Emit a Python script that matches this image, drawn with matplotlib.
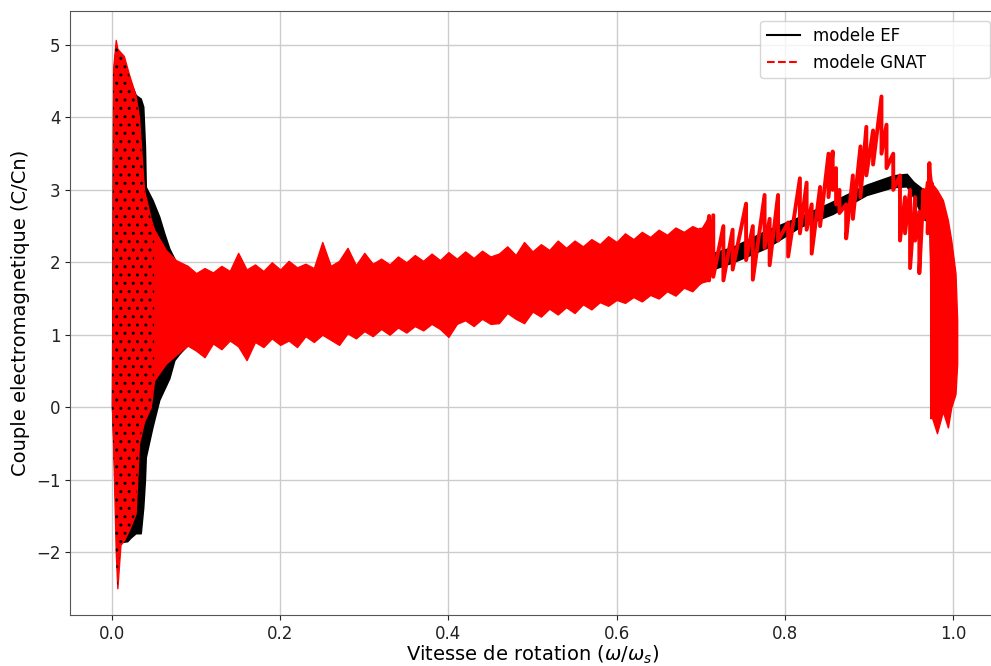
import numpy as np
import matplotlib
matplotlib.use("Agg")
import matplotlib.pyplot as plt
from matplotlib.lines import Line2D

# envelope of the oscillating torque (x = omega/omega_s)
ef_x = [0.0, 0.0015, 0.0036, 0.006, 0.012, 0.018, 0.022, 0.028, 0.034, 0.037, 0.039, 0.040,
        0.048, 0.056, 0.062, 0.068, 0.074, 0.080, 0.089, 0.10, 0.20, 0.30, 0.40, 0.50, 0.60,
        0.70, 0.738, 0.778, 0.818, 0.857, 0.897, 0.929, 0.945, 0.953, 0.965, 0.972, 0.977,
        0.99, 1.0]
ef_hi = [0.0, 4.6, 4.88, 4.8, 4.68, 4.63, 4.49, 4.31, 4.26, 4.15, 3.6, 3.04,
         2.86, 2.63, 2.40, 2.19, 2.05, 1.85, 1.71, 1.6, 1.55, 1.62, 1.7, 1.8, 1.92,
         2.08, 2.21, 2.44, 2.63, 2.84, 3.07, 3.2, 3.22, 3.11, 3.0, 2.95, 2.8,
         2.5, 1.4]
ef_lo = [0.0, -0.4, -1.2, -1.7, -1.86, -1.85, -1.8, -1.74, -1.74, -1.38, -1.0, -0.69,
         -0.27, 0.1, 0.25, 0.4, 0.65, 0.74, 0.85, 1.0, 1.15, 1.22, 1.3, 1.42, 1.55,
         1.85, 2.0, 2.2, 2.49, 2.67, 2.93, 3.04, 3.05, 2.9, 2.6, 2.55, 0.3,
         0.2, 0.9]

# start-up transient of the GNAT model
gnat_x0 = [0.0, 0.0015, 0.0044, 0.0063, 0.010, 0.014, 0.020, 0.028, 0.032, 0.038, 0.046,
           0.050, 0.064, 0.076, 0.09]
gnat_hi0 = [0.0, 4.7, 5.07, 4.95, 4.9, 4.85, 4.6, 4.3, 4.0, 3.0, 2.6,
            2.45, 2.17, 2.03, 1.95]
gnat_lo0 = [0.0, -0.6, -2.0, -2.5, -1.9, -1.84, -1.7, -1.47, -0.5, -0.2, 0.0,
            0.37, 0.6, 0.72, 0.85]

# steady band 0.09 .. 0.71
gnat_x1 = [0.09, 0.10, 0.11, 0.12, 0.13, 0.14, 0.15, 0.16, 0.17, 0.18, 0.19, 0.20, 0.21,
           0.22, 0.23, 0.24, 0.25, 0.26, 0.27, 0.28, 0.29, 0.30, 0.31, 0.32, 0.33, 0.34,
           0.35, 0.36, 0.37, 0.38, 0.39, 0.40, 0.41, 0.42, 0.43, 0.44, 0.45, 0.46, 0.47,
           0.48, 0.49, 0.50, 0.51, 0.52, 0.53, 0.54, 0.55, 0.56, 0.57, 0.58, 0.59, 0.60,
           0.61, 0.62, 0.63, 0.64, 0.65, 0.66, 0.67, 0.68, 0.69, 0.70, 0.71]
gnat_hi1 = [1.95, 1.85, 1.92, 1.86, 1.95, 1.88, 2.13, 1.9, 1.97, 1.88, 2.0, 1.9, 2.02,
            1.93, 1.98, 1.92, 2.28, 1.95, 2.02, 2.2, 1.96, 2.13, 1.98, 2.05, 1.97, 2.08,
            2.0, 2.1, 2.02, 2.12, 2.03, 2.14, 2.05, 2.15, 2.06, 2.16, 2.08, 2.12, 2.22,
            2.1, 2.28, 2.15, 2.25, 2.17, 2.3, 2.2, 2.3, 2.22, 2.32, 2.25, 2.36, 2.28,
            2.4, 2.32, 2.42, 2.35, 2.45, 2.38, 2.48, 2.42, 2.5, 2.45, 2.64]
gnat_lo1 = [0.85, 0.78, 0.69, 0.88, 0.8, 0.92, 0.84, 0.65, 0.9, 0.83, 0.95, 0.86, 0.92,
            0.83, 0.98, 0.9, 1.0, 0.93, 0.86, 1.02, 0.95, 1.05, 0.98, 1.08, 1.0, 1.1,
            1.03, 1.12, 1.06, 1.15, 1.08, 0.97, 1.15, 1.2, 1.12, 1.22, 1.15, 1.16, 1.3,
            1.22, 1.16, 1.32, 1.25, 1.36, 1.28, 1.38, 1.3, 1.42, 1.35, 1.45, 1.4, 1.48,
            1.44, 1.52, 1.46, 1.55, 1.5, 1.6, 1.54, 1.65, 1.6, 1.72, 1.75]

# wiggly trace 0.715 .. 0.972
gnat_x2 = [0.715, 0.727, 0.738, 0.754, 0.762, 0.776, 0.782, 0.792, 0.804, 0.818,
           0.826, 0.832, 0.842, 0.852, 0.857, 0.861, 0.865, 0.873, 0.881, 0.89, 0.897,
           0.905, 0.915, 0.921, 0.929, 0.937, 0.943, 0.949, 0.955, 0.96, 0.965, 0.97]
gnat_hi2 = [2.65, 2.5, 2.45, 2.81, 2.5, 2.93, 2.6, 2.93, 2.55, 3.16,
            3.1, 2.8, 3.04, 3.5, 3.53, 3.3, 3.0, 2.8, 3.2, 3.6, 3.87,
            3.82, 4.29, 3.9, 3.5, 3.2, 2.9, 3.0, 2.9, 2.7, 3.0, 3.1]
gnat_lo2 = [1.8, 1.75, 1.9, 2.03, 1.76, 2.2, 1.96, 2.3, 2.08, 2.4,
            2.45, 2.12, 2.5, 2.9, 3.0, 2.8, 2.68, 2.33, 2.6, 2.9, 3.2,
            3.35, 3.5, 3.3, 3.0, 2.3, 2.4, 1.92, 2.3, 1.85, 2.6, 2.4]

# final oscillation near synchronism
gnat_x3 = [0.972, 0.975, 0.981, 0.988, 0.994, 0.998, 1.003, 1.005]
gnat_hi3 = [3.37, 3.09, 3.0, 2.86, 2.58, 2.3, 1.85, 1.2]
gnat_lo3 = [2.6, -0.14, -0.36, -0.06, -0.28, 0.0, 0.18, 0.6]

fig = plt.figure(figsize=(9.91, 6.66), dpi=100)
ax = fig.add_axes([70/991, 51/666, 925/991, 604/666])

ax.fill_between(ef_x, ef_lo, ef_hi, facecolor='black', edgecolor='black', linewidth=1.2, zorder=2)

for xs, lo, hi in [(gnat_x0, gnat_lo0, gnat_hi0), (gnat_x1, gnat_lo1, gnat_hi1),
                   (gnat_x3, gnat_lo3, gnat_hi3)]:
    ax.fill_between(xs, lo, hi, facecolor='red', edgecolor='red', linewidth=1.0, zorder=3)

# dashed look where the two models overlap at start-up
ax.fill_between(gnat_x0[:12], gnat_lo0[:12], gnat_hi0[:12], facecolor='none',
                edgecolor='black', hatch='..', linewidth=0, zorder=4)

# GNAT drawn as a zigzag trace between its envelope values
zx = np.repeat(np.concatenate([gnat_x1[-2:], gnat_x2, gnat_x3[:2]]), 2)
zy = np.column_stack([np.concatenate([gnat_hi1[-2:], gnat_hi2, gnat_hi3[:2]]),
                      np.concatenate([gnat_lo1[-2:], gnat_lo2, gnat_lo3[:2]])]).ravel()
ax.plot(zx, zy, color='red', linewidth=2.8, zorder=3)

ax.set_xlim(-0.05, 1.05)
ax.set_ylim(-2.87, 5.47)
ax.set_xticks([0.0, 0.2, 0.4, 0.6, 0.8, 1.0])
ax.set_yticks([-2, -1, 0, 1, 2, 3, 4, 5])
ax.tick_params(labelsize=12, colors='#222222')
for s in ax.spines.values():
    s.set_color('#555555')
ax.grid(True, color='#cccccc', linewidth=1)
ax.set_axisbelow(True)
ax.set_xlabel(r'Vitesse de rotation $(\omega/\omega_s)$', fontsize=14, labelpad=1)
ax.set_ylabel('Couple electromagnetique (C/Cn)', fontsize=14)

handles = [Line2D([], [], color='black', linewidth=1.5),
           Line2D([], [], color='red', linestyle='--', linewidth=1.5)]
ax.legend(handles, ['modele EF', 'modele GNAT'], loc='upper left', fontsize=12,
          bbox_to_anchor=(0.746, 0.0, 0.249, 0.984), mode='expand', borderaxespad=0)

fig.savefig('out.png', dpi=100)
